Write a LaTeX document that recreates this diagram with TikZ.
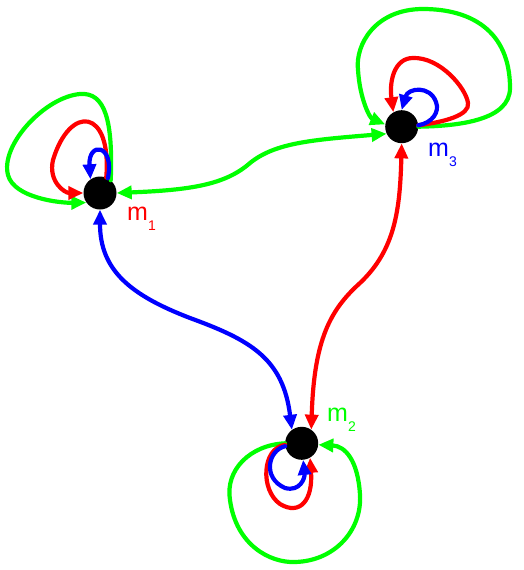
\documentclass[tikz,border=0pt]{standalone}
\usepackage{fontspec}
\setmainfont{Liberation Sans}
\usetikzlibrary{arrows.meta}
\definecolor{lgreen}{RGB}{0,255,0}
\definecolor{lred}{RGB}{255,0,0}
\definecolor{lblue}{RGB}{0,0,255}
\tikzset{
  vert/.style={circle,fill=black,inner sep=0pt,minimum size=33pt},
  conn/.style={line width=4.2pt,line cap=round},
  tipr/.style={-{Triangle[length=15pt,width=13pt]}},
  tipb/.style={{Triangle[length=15pt,width=13pt]}-{Triangle[length=15pt,width=13pt]}},
  lab/.style={anchor=base west,inner sep=0pt,font=\fontsize{25}{25}\selectfont},
}
\newcommand{\subsc}[1]{\raisebox{-10pt}{\fontsize{14}{14}\selectfont #1}}
\begin{document}
\begin{tikzpicture}[x=1pt,y=-1pt]
\useasboundingbox (0,0) rectangle (524,570);
\node[vert] (m1) at (100,193) {};
\node[vert] (m2) at (301.7,443.3) {};
\node[vert] (m3) at (401.7,126.7) {};
% labels
\node[lab,text=lred] (l1) at (127,220) {m\subsc{1}};
\node[lab,text=lblue] (l3) at (428,156.5) {m\subsc{3}};
\node[lab,text=lgreen] (l2) at (327,421.5) {m\subsc{2}};
% edges between vertices
\draw[conn,lgreen,tipb] (m1.east) .. controls (190,190) and (225,185) .. (250,163)
   .. controls (275,143) and (310,140) .. (m3.205);
\draw[conn,lblue,tipb] (m1.south) .. controls (100,270) and (130,295) .. (190,318)
   .. controls (250,340) and (283,358) .. (m2.126);
\draw[conn,lred,tipb] (m3.south) .. controls (400,210) and (395,250) .. (360,283)
   .. controls (330,310) and (314,340) .. (m2.55);
% loops at m1
\draw[conn,lgreen,tipr] (m1.50) .. controls (113,120) and (105,92) .. (80,94)
   .. controls (45,97) and (0,145) .. (8,175)
   .. controls (14,198) and (60,203) .. (m1.215);
\draw[conn,lred,tipr] (m1.68) .. controls (112,108) and (70,104) .. (53,160)
   .. controls (48,182) and (65,193) .. (m1.west);
\draw[conn,lblue,tipr] (m1.62) .. controls (115,144) and (88,141) .. (m1.125);
% loops at m3
\draw[conn,lgreen,tipr] (m3.0) .. controls (460,126) and (510,120) .. (510,88)
   .. controls (510,30) and (470,9) .. (423,9)
   .. controls (375,9) and (355,45) .. (358,70)
   .. controls (360,100) and (370,118) .. (m3.172);
\draw[conn,lred,tipr] (m3.5) .. controls (445,122) and (470,115) .. (468,103)
   .. controls (466,88) and (440,57) .. (413,58)
   .. controls (395,58) and (389,80) .. (m3.120);
\draw[conn,lblue,tipr] (m3.5) .. controls (432,123) and (440,112) .. (436,102)
   .. controls (430,85) and (408,88) .. (m3.north);
% loops at m2
\draw[conn,lgreen,tipr] (m2.180) .. controls (250,445) and (225,470) .. (230,500)
   .. controls (236,545) and (270,563) .. (295,562)
   .. controls (335,561) and (362,530) .. (360,495)
   .. controls (358,460) and (345,446) .. (m2.355);
\draw[conn,lred,tipr] (m2.185) .. controls (262,448) and (260,490) .. (280,504)
   .. controls (300,516) and (313,500) .. (m2.300);
\draw[conn,lblue,tipr] (m2.190) .. controls (268,450) and (262,478) .. (285,488)
   .. controls (300,492) and (305,478) .. (m2.275);
\end{tikzpicture}
\end{document}
